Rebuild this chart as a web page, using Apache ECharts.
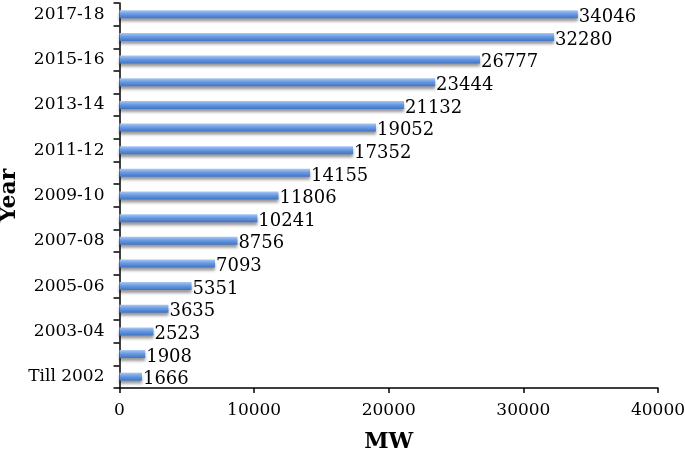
<!DOCTYPE html>
<html><head><meta charset="utf-8">
<script src="https://cdn.jsdelivr.net/npm/echarts@6/dist/echarts.min.js"></script>
<style>html,body{margin:0;padding:0;background:#fff}#c{width:685px;height:453px}</style>
</head><body><div id="c"></div>
<script>
const categories = ['Till 2002','2002-03','2003-04','2004-05','2005-06','2006-07','2007-08','2008-09','2009-10','2010-11','2011-12','2012-13','2013-14','2014-15','2015-16','2016-17','2017-18'];
const values = [1666,1908,2523,3635,5351,7093,8756,10241,11806,14155,17352,19052,21132,23444,26777,32280,34046];
const xTicks = {min:0, max:40000, interval:10000};
const font = 'DejaVu Serif';
const chart = echarts.init(document.getElementById('c'));
chart.setOption({
  animation:false,
  grid:{left:119.5,right:27,top:3,bottom:65,containLabel:false,outerBoundsMode:'none'},
  xAxis:{type:'value',min:xTicks.min,max:xTicks.max,interval:xTicks.interval,
    name:'MW',nameLocation:'middle',nameGap:43,nameMoveOverlap:false,
    nameTextStyle:{fontFamily:font,fontWeight:'bold',fontSize:22,color:'#000'},
    axisLine:{show:true,lineStyle:{color:'#000',width:1.5}},
    axisTick:{show:true,length:5,lineStyle:{color:'#000',width:1.5}},
    axisLabel:{fontFamily:font,fontSize:17,color:'#000',margin:14,formatter:v=>String(v)},
    splitLine:{show:false}},
  yAxis:{type:'category',data:categories,
    name:'Year',nameLocation:'middle',nameGap:99,nameRotate:90,nameMoveOverlap:false,
    nameTextStyle:{fontFamily:font,fontWeight:'bold',fontSize:22,color:'#000'},
    axisLine:{show:true,lineStyle:{color:'#000',width:1.5}},
    axisTick:{show:true,length:6,interval:0,lineStyle:{color:'#000',width:1.5}},
    axisLabel:{interval:1,fontFamily:font,fontSize:17,color:'#000',margin:15}},
  series:[{type:'bar',data:values,barWidth:8,
    itemStyle:{color:new echarts.graphic.LinearGradient(0,0,0,1,[
      {offset:0,color:'#a9c8f2'},{offset:0.45,color:'#6a9be2'},{offset:1,color:'#3f73c6'}]),
      shadowColor:'rgba(0,0,0,0.4)',shadowBlur:3,shadowOffsetY:3},
    label:{show:true,position:'right',distance:1,offset:[0,3],fontFamily:font,fontSize:18,color:'#000'}}]
});
</script></body></html>
